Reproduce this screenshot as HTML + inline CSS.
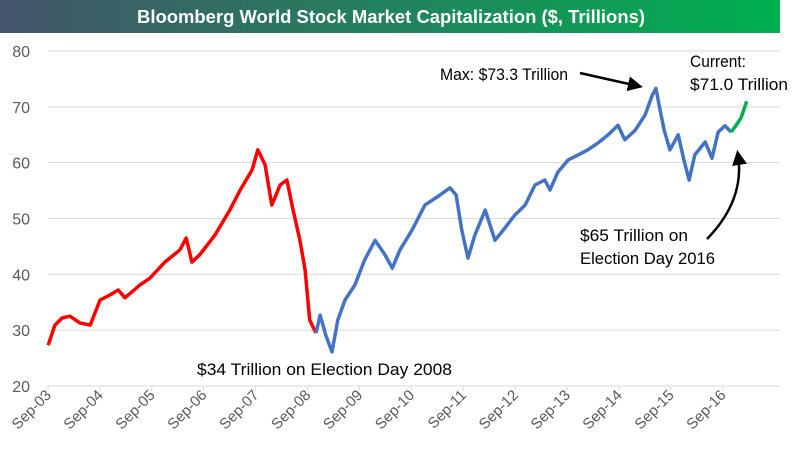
<!DOCTYPE html>
<html><head><meta charset="utf-8"><style>
html,body{margin:0;padding:0;background:#fff;}
body{width:792px;height:458px;overflow:hidden;position:relative;font-family:"Liberation Sans",sans-serif;}
#title{position:absolute;left:0;top:0;width:780px;height:33px;background:linear-gradient(90deg,#44546A,#00B050);}
#title svg{position:absolute;left:0;top:0}
#chart{position:absolute;left:0;top:0}
</style></head><body>
<div id="title"><svg width="780" height="33"><text x="137" y="23" font-size="18" font-weight="bold" fill="#fff" textLength="508" lengthAdjust="spacingAndGlyphs">Bloomberg World Stock Market Capitalization ($, Trillions)</text></svg></div>
<svg id="chart" width="792" height="458"></svg>
<script>
const yTicks=[20,30,40,50,60,70,80];
const xTickLabels=["Sep-03","Sep-04","Sep-05","Sep-06","Sep-07","Sep-08","Sep-09","Sep-10","Sep-11","Sep-12","Sep-13","Sep-14","Sep-15","Sep-16"];
const dates=[2003.67,2003.80,2003.94,2004.09,2004.28,2004.48,2004.67,2004.86,2005.02,2005.15,2005.44,2005.63,2005.92,2006.21,2006.33,2006.44,2006.59,2006.88,2007.17,2007.37,2007.60,2007.71,2007.85,2007.98,2008.14,2008.27,2008.39,2008.52,2008.62,2008.71,2008.83,2008.91,2009.02,2009.14,2009.25,2009.39,2009.58,2009.77,2009.97,2010.16,2010.30,2010.45,2010.68,2010.93,2011.22,2011.41,2011.53,2011.64,2011.76,2011.89,2012.09,2012.28,2012.47,2012.66,2012.86,2013.05,2013.24,2013.34,2013.49,2013.69,2013.88,2014.07,2014.26,2014.46,2014.65,2014.78,2014.98,2015.17,2015.31,2015.38,2015.46,2015.54,2015.65,2015.81,2015.92,2016.02,2016.13,2016.33,2016.46,2016.58,2016.71,2016.83,2016.92,2017.02,2017.13];
const values=[27.3,30.9,32.2,32.5,31.3,30.9,35.4,36.3,37.2,35.8,38.1,39.3,42.2,44.4,46.5,42.2,43.5,47.0,51.5,55.1,58.7,62.3,59.6,52.4,56.0,56.9,51.5,46.1,40.8,31.8,29.5,32.7,29.1,26.1,31.8,35.4,38.1,42.6,46.1,43.5,41.1,44.4,47.9,52.4,54.2,55.5,54.2,47.9,42.9,47.0,51.5,46.1,48.3,50.6,52.4,56.0,56.9,55.1,58.3,60.5,61.4,62.3,63.5,65.0,66.7,64.1,65.8,68.5,72.1,73.3,69.4,65.8,62.3,65.0,60.5,56.9,61.4,63.7,60.8,65.5,66.6,65.5,66.6,68.0,71.0];
const election2008=2008.84, election2016=2016.85;
const NS="http://www.w3.org/2000/svg";
const svg=document.getElementById('chart');
const x0=48, pxYear=51.9, yBase=386, pxUnit=335/60;
function xs(t){return x0+(t-2003.667)*pxYear;}
function ys(v){return yBase-(v-20)*pxUnit;}
function mk(tag,attrs,txt){const e=document.createElementNS(NS,tag);for(const k in attrs)e.setAttribute(k,attrs[k]);if(txt!==undefined)e.textContent=txt;svg.appendChild(e);return e;}
yTicks.forEach(v=>{
  if(v>20){const g=mk('line',{x1:x0,x2:780,y1:ys(v),y2:ys(v),stroke:'#d9d9d9','stroke-width':1});
  
  }
  const t=mk('text',{x:30,y:ys(v)+6,'text-anchor':'end','font-size':16,fill:'#595959'},v);
  
  
});
const ax=mk('line',{x1:x0,x2:780,y1:yBase,y2:yBase,stroke:'#d9d9d9','stroke-width':1});


xTickLabels.forEach((l,i)=>{
  const x=xs(2003.667+i);
  const tk=mk('line',{x1:x,x2:x,y1:yBase,y2:yBase+5,stroke:'#d9d9d9'});
  
  
  const t=mk('text',{x:x+4,y:yBase+10,'text-anchor':'end','font-size':15,fill:'#595959',transform:`rotate(-45 ${x+4} ${yBase+10})`},l);
  
  
});
function seg(from,to,color,name){
  let pts=[];
  dates.forEach((d,i)=>{if(d>=from&&d<=to)pts.push(xs(d).toFixed(1)+','+ys(values[i]).toFixed(1));});
  const p=mk('polyline',{points:pts.join(' '),fill:'none',stroke:color,'stroke-width':3.5,'stroke-linejoin':'round'});
  
  
}
seg(0,election2008,'#ff0000','series-pre-2008');
seg(2008.80,election2016,'#4472C4','series-2008-2016');
seg(2016.80,3000,'#00B050','series-post-2016');
const ann=[["Max: $73.3 Trillion",440,80,128,'annotation-max'],["Current:",690,67,56,'annotation-current'],["$71.0 Trillion",690,90,98,'annotation-current-value'],["$65 Trillion on",580,241,108,'annotation-2016'],["Election Day 2016",580,264,135,'annotation-2016-line2'],["$34 Trillion on Election Day 2008",197,375,255,'annotation-2008']];
ann.forEach(a=>{const t=mk('text',{x:a[1],y:a[2],'font-size':17,fill:'#000',textLength:a[3],lengthAdjust:'spacingAndGlyphs'},a[0]);
  
  });
mk('defs',{}).innerHTML='<marker id="ah" markerWidth="6" markerHeight="6" refX="4" refY="3" orient="auto"><path d="M0,0 L6,3 L0,6 z" fill="#000"/></marker>';
const a1=mk('line',{x1:580,y1:73,x2:638,y2:86,stroke:'#000','stroke-width':2.5,'marker-end':'url(#ah)'});


const a2=mk('path',{d:'M707,239 Q745,200 738,155',fill:'none',stroke:'#000','stroke-width':2.5,'marker-end':'url(#ah)'});


</script>
</body></html>
